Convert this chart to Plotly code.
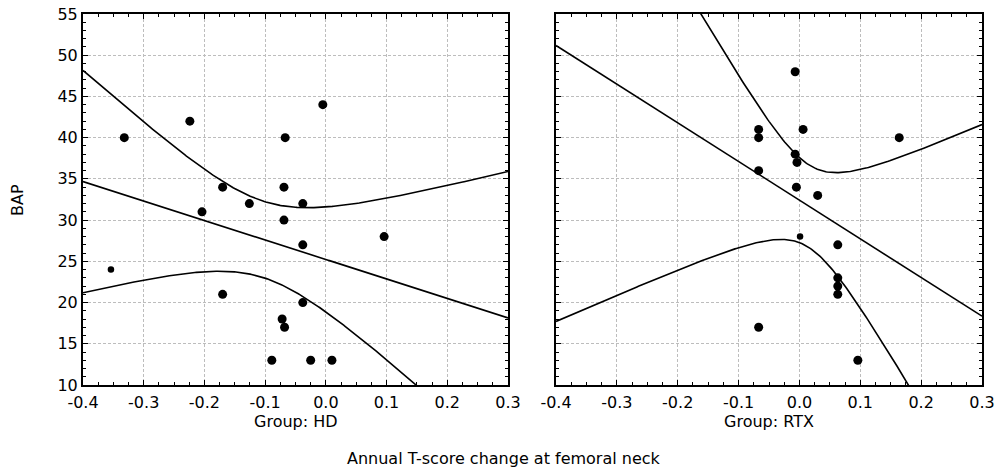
import numpy as np
import plotly.graph_objects as go

# ---- data ----
hd_x = [-0.332, -0.224, -0.005, -0.067, -0.170, -0.069, -0.204, -0.126, -0.038, -0.069,
        0.096, -0.038, -0.354, -0.170, -0.038, -0.072, -0.068, -0.089, -0.025, 0.010]
hd_y = [40, 42, 44, 40, 34, 34, 31, 32, 32, 30,
        28, 27, 24, 21, 20, 18, 17, 13, 13, 13]

rtx_x = [-0.007, -0.067, -0.067, 0.006, 0.164, -0.007, -0.004, -0.067, -0.005, 0.030,
         0.001, 0.063, 0.063, 0.063, 0.063, -0.067, 0.096]
rtx_y = [48, 41, 40, 41, 40, 38, 37, 36, 34, 33,
         28, 27, 23, 22, 21, 17, 13]

x_ticks = [-0.4, -0.3, -0.2, -0.1, 0.0, 0.1, 0.2, 0.3]
x_tick_text = ["-0.4", "-0.3", "-0.2", "-0.1", "0.0", "0.1", "0.2", "0.3"]
y_ticks = [10, 15, 20, 25, 30, 35, 40, 45, 50, 55]
groups = ["Group: HD", "Group: RTX"]
t975 = {18: 2.101, 15: 2.131}  # Student t 0.975 quantiles for n-2 df

# style: a few markers are drawn smaller in the reference
small_marker = {0: [12], 1: [10]}


def fit_bands(xs, ys, grid):
    x = np.asarray(xs, float)
    y = np.asarray(ys, float)
    n = len(x)
    b, a = np.polyfit(x, y, 1)
    resid = y - (a + b * x)
    s = np.sqrt(np.sum(resid ** 2) / (n - 2))
    sxx = np.sum((x - x.mean()) ** 2)
    t = t975.get(n - 2, 2.1)
    fit = a + b * grid
    hw = t * s * np.sqrt(1.0 / n + (grid - x.mean()) ** 2 / sxx)
    return fit, fit - hw, fit + hw


grid = np.linspace(-0.4, 0.3, 301)
FONT = "DejaVu Sans, Verdana, sans-serif"
FS = 16

fig = go.Figure()
for i, (xs, ys) in enumerate([(hd_x, hd_y), (rtx_x, rtx_y)]):
    xa = "x" if i == 0 else "x2"
    ya = "y" if i == 0 else "y2"
    fit, lo, hi = fit_bands(xs, ys, grid)
    for curve in (fit, lo, hi):
        fig.add_trace(go.Scatter(x=grid, y=curve, mode="lines", xaxis=xa, yaxis=ya,
                                 line=dict(color="black", width=1.6), showlegend=False,
                                 hoverinfo="skip"))
    sizes = [6.5 if k in small_marker[i] else 9 for k in range(len(xs))]
    fig.add_trace(go.Scatter(x=xs, y=ys, mode="markers", xaxis=xa, yaxis=ya,
                             marker=dict(color="black", size=sizes, opacity=1,
                                         line=dict(width=0, color="black")),
                             opacity=1, showlegend=False, cliponaxis=False))

ax_common = dict(
    showline=True, linecolor="black", linewidth=2, mirror="allticks",
    ticks="inside", ticklen=5, tickcolor="black", tickwidth=1,
    showgrid=True, gridcolor="#bdbdbd", griddash="3px,2px", gridwidth=1,
    zeroline=False, automargin=False,
    tickfont=dict(family=FONT, size=FS, color="black"),
)
xax = dict(ax_common, range=[-0.4, 0.3], tickvals=x_ticks, ticktext=x_tick_text,
           minor=dict(dtick=0.025, ticks="inside", ticklen=3, tickcolor="black", showgrid=False),
           ticklabelstandoff=2)
yax = dict(ax_common, range=[10, 55], tickvals=y_ticks,
           minor=dict(dtick=1, ticks="inside", ticklen=3, tickcolor="black", showgrid=False),
           domain=[1 - 385 / 474, 1 - 14 / 474], ticklabelstandoff=0)

fig.update_layout(
    template="none",
    width=1008, height=474, margin=dict(l=0, r=0, t=0, b=0, pad=0, autoexpand=False),
    paper_bgcolor="white", plot_bgcolor="white", showlegend=False,
    xaxis=dict(xax, domain=[83 / 1008, 508 / 1008], anchor="y"),
    yaxis=dict(yax, anchor="x"),
    xaxis2=dict(xax, domain=[556 / 1008, 982 / 1008], anchor="y2"),
    yaxis2=dict(yax, anchor="x2", showticklabels=False),
    font=dict(family=FONT, size=FS, color="black"),
)

ann = [
    dict(text=groups[0], x=(83 + 508) / 2 / 1008, y=1 - 421 / 474),
    dict(text=groups[1], x=(556 + 982) / 2 / 1008, y=1 - 421 / 474),
    dict(text="Annual T-score change at femoral neck", x=504 / 1008, y=1 - 458 / 474),
    dict(text="BAP", x=18 / 1008, y=1 - 200 / 474, textangle=-90),
]
for a in ann:
    fig.add_annotation(xref="paper", yref="paper", showarrow=False,
                       xanchor="center", yanchor="middle",
                       font=dict(family=FONT, size=FS, color="black"), **a)

fig.write_html("out.html")
